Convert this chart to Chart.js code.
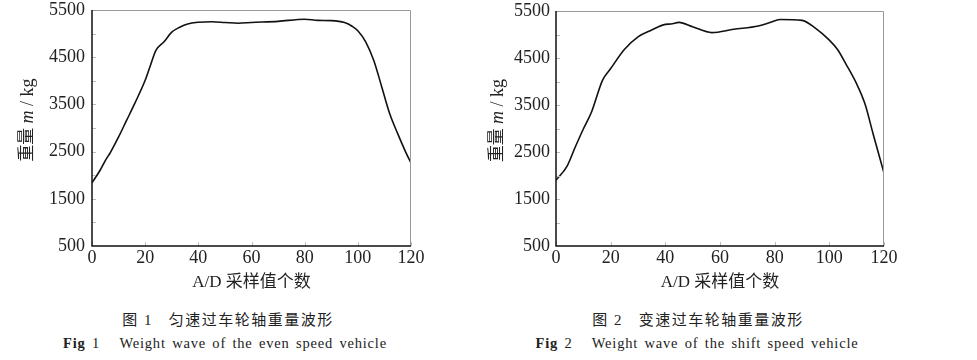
<!DOCTYPE html>
<html>
<head>
<meta charset="utf-8">
<script src="https://cdn.jsdelivr.net/npm/chart.js@4"></script>
<style>
    body { margin: 0; background: #fff; width: 977px; height: 360px; position: relative; overflow: hidden; }
    .box { position: absolute; top: 0; height: 290px; }
    .cap { position: absolute; font-family: "Liberation Serif", "Noto Sans CJK SC", serif; color: #222; white-space: nowrap; transform: translateX(-50%); }
    .cn { font-size: 15px; top: 308px; letter-spacing: 1.5px; }
    .en { font-size: 14.5px; top: 335px; letter-spacing: 0.8px; word-spacing: 2px; }
</style>
</head>
<body>
<div class="box" style="left:0;width:430px"><canvas id="chart1"></canvas></div>
<div class="box" style="left:470px;width:430px"><canvas id="chart2"></canvas></div>
<div class="cap cn" style="left:228px">图 1&nbsp;&nbsp;&nbsp;匀速过车轮轴重量波形</div>
<div class="cap en" style="left:225px"><b>Fig</b> 1&nbsp;&nbsp;&nbsp;Weight wave of the even speed vehicle</div>
<div class="cap cn" style="left:698px">图 2&nbsp;&nbsp;&nbsp;变速过车轮轴重量波形</div>
<div class="cap en" style="left:697px"><b>Fig</b> 2&nbsp;&nbsp;&nbsp;Weight wave of the shift speed vehicle</div>
<script>
// Fig 1: even speed
const evenX = [0, 3, 5, 7, 10, 13, 16, 20, 22, 24, 27, 30, 33, 36, 40, 45, 50, 55, 60, 70, 80, 85, 90, 95, 98, 100, 103, 106, 109, 112, 115, 118, 120];
const evenY = [1840, 2100, 2310, 2490, 2810, 3160, 3510, 4010, 4330, 4640, 4820, 5030, 5135, 5205, 5240, 5250, 5235, 5220, 5235, 5260, 5305, 5280, 5275, 5235, 5150, 5060, 4820, 4430, 3870, 3300, 2880, 2490, 2260];

// Fig 2: shift speed
const shiftX = [0, 4, 7, 10, 13, 17, 20, 25, 30, 35, 40, 42, 45, 50, 57, 65, 74, 78, 82, 90, 95, 100, 103, 106, 110, 113, 116, 120];
const shiftY = [1900, 2195, 2600, 2990, 3350, 4025, 4275, 4680, 4950, 5095, 5215, 5222, 5258, 5165, 5040, 5110, 5180, 5250, 5320, 5300, 5130, 4880, 4680, 4380, 3950, 3530, 2890, 2050];

const xTicks = [0, 20, 40, 60, 80, 100, 120];
const yLabeled = [500, 1500, 2500, 3500, 4500, 5500];

const serif = '"Liberation Serif", "Noto Sans CJK SC", serif';

// frame, inward ticks and the y title with italic m
const decor = {
    id: 'decor',
    afterDraw(chart, args, opts) {
        const ctx = chart.ctx;
        const a = chart.chartArea;
        const ys = chart.scales.y;
        const xs = chart.scales.x;
        ctx.save();
        ctx.lineWidth = 1;
        ctx.strokeStyle = '#999';
        ctx.beginPath();
        ctx.moveTo(a.left, a.top + 0.5);
        ctx.lineTo(a.right - 0.5, a.top + 0.5);
        ctx.lineTo(a.right - 0.5, a.bottom);
        ctx.stroke();
        ctx.strokeStyle = '#bbb';
        ctx.beginPath();
        for (let v = 1000; v < 5500; v += 500) {
            const y = Math.round(ys.getPixelForValue(v)) + 0.5;
            ctx.moveTo(a.left, y);
            ctx.lineTo(a.left + 4, y);
        }
        xTicks.forEach(t => {
            const x = Math.round(xs.getPixelForValue(t)) + 0.5;
            ctx.moveTo(x, a.bottom);
            ctx.lineTo(x, a.bottom - 4);
        });
        ctx.stroke();
        ctx.strokeStyle = '#111';
        ctx.lineWidth = 1.5;
        ctx.beginPath();
        ctx.moveTo(a.left, a.top);
        ctx.lineTo(a.left, a.bottom);
        ctx.lineTo(a.right, a.bottom);
        ctx.stroke();

        // y title
        ctx.translate(a.left - opts.titleOffset, (a.top + a.bottom) / 2 - 8);
        ctx.rotate(-Math.PI / 2);
        ctx.fillStyle = '#222';
        ctx.textBaseline = 'middle';
        const parts = [
            { t: '重量 ', f: '17px ' + serif },
            { t: 'm', f: 'italic 18px ' + serif },
            { t: ' / kg', f: '18px ' + serif }
        ];
        let w = 0;
        parts.forEach(p => { ctx.font = p.f; w += ctx.measureText(p.t).width; });
        let x = -w / 2;
        parts.forEach(p => {
            ctx.font = p.f;
            ctx.fillText(p.t, x, 0);
            x += ctx.measureText(p.t).width;
        });
        ctx.restore();
    }
};

function makeChart(id, xs, ys, yWidth, labelPad, padRight, padTop, titleOffset) {
    const ctx = document.getElementById(id).getContext('2d');
    return new Chart(ctx, {
        type: 'line',
        data: {
            datasets: [{
                data: xs.map((x, i) => ({ x: x, y: ys[i] })),
                borderColor: '#111',
                borderWidth: 1.6,
                pointRadius: 0,
                cubicInterpolationMode: 'monotone',
                fill: false
            }]
        },
        options: {
            responsive: false,
            animation: false,
            layout: { padding: { top: padTop, right: padRight, left: 0, bottom: 0 } },
            plugins: {
                legend: { display: false },
                tooltip: { enabled: false },
                decor: { titleOffset: titleOffset }
            },
            scales: {
                x: {
                    type: 'linear',
                    min: 0,
                    max: 120,
                    afterBuildTicks: s => { s.ticks = xTicks.map(v => ({ value: v })); },
                    grid: { display: false, drawTicks: false },
                    border: { display: false },
                    ticks: { color: '#222', padding: 1, font: { family: serif, size: 18 }, maxRotation: 0, callback: v => String(v) },
                    title: { display: true, text: 'A/D 采样值个数', color: '#222', padding: { top: 0, bottom: -3 }, font: { family: serif, size: 17 } },
                    afterFit: s => { s.height = 44; s.paddingLeft = 0; s.paddingRight = 0; }
                },
                y: {
                    min: 500,
                    max: 5500,
                    afterBuildTicks: s => { s.ticks = yLabeled.map(v => ({ value: v })); },
                    grid: { display: false, drawTicks: false },
                    border: { display: false },
                    ticks: { color: '#222', padding: labelPad, font: { family: serif, size: 18 }, callback: v => String(v) },
                    afterFit: s => { s.width = yWidth; s.paddingTop = 0; s.paddingBottom = 0; }
                }
            }
        },
        plugins: [decor]
    });
}

function sizeCanvas(id) {
    const c = document.getElementById(id);
    c.width = 430;
    c.height = 290;
    c.style.width = '430px';
    c.style.height = '290px';
}

sizeCanvas('chart1');
sizeCanvas('chart2');
makeChart('chart1', evenX, evenY, 92, 7, 19, 10, 64);
makeChart('chart2', shiftX, shiftY, 86, 6, 16, 11, 58);
</script>
</body>
</html>
